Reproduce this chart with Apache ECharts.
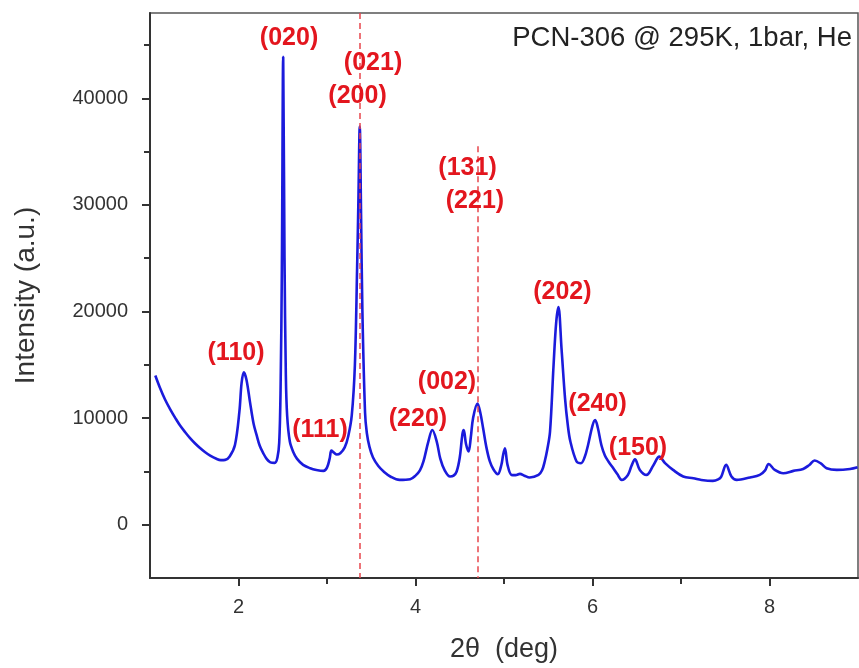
<!DOCTYPE html>
<html>
<head>
<meta charset="utf-8">
<script src="https://cdn.jsdelivr.net/npm/echarts@6/dist/echarts.min.js"></script>
<style>
  html, body { margin: 0; padding: 0; background: #ffffff; }
  #chart { width: 859px; height: 668px; }
</style>
</head>
<body>
<div id="chart"></div>
<script>
// 2θ (deg) positions of the pattern
const twoTheta = [
  1.06, 1.11, 1.17, 1.23, 1.29, 1.34, 1.40, 1.45, 1.51, 1.565, 1.62, 1.68, 1.75, 1.80, 1.85, 1.90,
  1.96, 2.01, 2.035, 2.06, 2.09, 2.13, 2.17, 2.205, 2.24, 2.28, 2.32, 2.36, 2.41, 2.44, 2.46,
  2.475, 2.49, 2.505, 2.52, 2.535, 2.55, 2.58, 2.62, 2.66, 2.73, 2.81, 2.88, 2.96, 3.00, 3.03,
  3.05, 3.08, 3.11, 3.15, 3.20, 3.24, 3.28, 3.315, 3.34, 3.355, 3.37, 3.385, 3.40, 3.43, 3.45,
  3.48, 3.52, 3.58, 3.64, 3.72, 3.82, 3.94, 4.00, 4.05, 4.09, 4.145, 4.19, 4.24, 4.28, 4.33,
  4.39, 4.43, 4.465, 4.50, 4.53, 4.545, 4.57, 4.60, 4.625, 4.65, 4.70, 4.73, 4.765, 4.80, 4.84,
  4.88, 4.93, 4.97, 4.99, 5.01, 5.04, 5.085, 5.13, 5.18, 5.23, 5.29, 5.39, 5.43, 5.46, 5.49,
  5.52, 5.56, 5.59, 5.615, 5.65, 5.69, 5.72, 5.75, 5.82, 5.87, 5.91, 5.95, 6.00, 6.03, 6.06,
  6.10, 6.14, 6.18, 6.235, 6.28, 6.33, 6.40, 6.44, 6.48, 6.535, 6.61, 6.69, 6.755, 6.82, 6.91,
  7.025, 7.14, 7.23, 7.36, 7.42, 7.455, 7.51, 7.57, 7.63, 7.78, 7.89, 7.95, 7.99, 8.06, 8.155,
  8.27, 8.38, 8.45, 8.51, 8.58, 8.645, 8.76, 8.91, 8.995
];
// Intensity (a.u.)
const intensity = [
  14000, 12900, 11750, 10800, 9950, 9300, 8650, 8150, 7620, 7200, 6820, 6480, 6180, 6060, 6080, 6400,
  7480, 10600, 13300, 14300, 13600, 11500, 9500, 8400, 7400, 6700, 6150, 5850, 5800, 6300, 7700,
  12500, 24000, 43880, 25000, 14000, 10200, 7800, 6800, 6200, 5610, 5300, 5140, 5050, 5350, 6200,
  6950, 6750, 6580, 6700, 7250, 8300, 10280, 14960, 24000, 30500, 37350, 29000, 20000, 10500, 8600,
  7300, 6300, 5500, 4990, 4500, 4200, 4270, 4600, 5100, 5930, 7800, 8880, 7800, 6200, 5100,
  4520, 4600, 4990, 6300, 8500, 8880, 7600, 6860, 8200, 9970, 11360, 10600, 9000, 7300, 5930,
  5200, 4740, 5600, 6540, 7170, 5610, 4670, 4650, 4770, 4600, 4430, 4670, 5100, 5930, 7100,
  8730, 14960, 19000, 20410, 16510, 11830, 9400, 7800, 5930, 5770, 6300, 7480, 9300, 9820, 9100,
  7480, 6500, 5930, 5300, 4750, 4200, 4670, 5500, 6140, 5140, 4670, 5610, 6390, 5770, 5140,
  4520, 4360, 4200, 4110, 4250, 4520, 5610, 4520, 4200, 4430, 4670, 5100, 5700, 5140, 4830,
  5050, 5230, 5600, 6020, 5750, 5300, 5140, 5230, 5390
];
// Y tick labels and minor ticks
const yMajorTicks = [0, 10000, 20000, 30000, 40000];
const yMinorTicks = [5000, 15000, 25000, 35000, 45000];
const xMajorTicks = [2, 4, 6, 8];
const xMinorTicks = [3, 5, 7];
// Miller index annotations (label, 2θ, intensity where label sits)
const hklLabels = ['(110)', '(020)', '(111)', '(021)', '(200)', '(220)', '(002)', '(131)', '(221)', '(202)', '(240)', '(150)'];
const hklX      = [1.972, 2.571, 2.921, 3.52, 3.345, 4.028, 4.356, 4.588, 4.672, 5.66, 6.057, 6.514];
const hklY      = [16050, 45660, 8870, 43300, 40180, 9900, 13330, 33480, 30360, 21830, 11330, 7210];
// Reference dashed lines: [2θ, top intensity]
const refLineX   = [3.37, 4.70];
const refLineTop = [48000, 35500];
const titleText = 'PCN-306 @ 295K, 1bar, He';

const FONT = '"Liberation Sans", Arial, Helvetica, sans-serif';

const chart = echarts.init(document.getElementById('chart'), null, { renderer: 'canvas' });

const lineData = twoTheta.map((x, i) => [x, intensity[i]]);
const hklData = hklLabels.map((t, i) => ({ name: t, value: [hklX[i], hklY[i]] }));
const refLines = refLineX.map((x, i) => [
  { coord: [x, refLineTop[i]] },
  { coord: [x, -5000] }
]);

chart.setOption({
  animation: false,
  backgroundColor: '#ffffff',
  title: {
    text: titleText,
    right: 7,
    top: 24,
    padding: 0,
    textStyle: { fontFamily: FONT, fontSize: 27.5, fontWeight: 'normal', color: '#222' }
  },
  grid: {
    left: 150, right: 1, top: 13, bottom: 88,
    show: true, borderColor: '#555', borderWidth: 1.5, backgroundColor: 'transparent'
  },
  xAxis: [{
    type: 'value', min: 1, max: 9,
    name: '2θ  (deg)', nameLocation: 'middle', nameGap: 58,
    nameTextStyle: { fontFamily: FONT, fontSize: 27, color: '#333' },
    axisLine: { show: true, onZero: false, lineStyle: { color: '#333', width: 2 } },
    axisTick: { show: true, inside: false, length: 8, customValues: xMajorTicks, lineStyle: { color: '#333', width: 2 } },
    axisLabel: { show: true, customValues: xMajorTicks, margin: 19, fontFamily: FONT, fontSize: 20, color: '#333' },
    splitLine: { show: false }
  }, {
    type: 'value', min: 1, max: 9, position: 'bottom',
    axisLine: { show: false, onZero: false },
    axisTick: { show: true, inside: false, length: 6, customValues: xMinorTicks, lineStyle: { color: '#333', width: 2 } },
    axisLabel: { show: false },
    splitLine: { show: false }
  }],
  yAxis: [{
    type: 'value', min: -5000, max: 48000,
    name: 'Intensity (a.u.)', nameLocation: 'middle', nameGap: 110,
    nameTextStyle: { fontFamily: FONT, fontSize: 28, color: '#333' },
    axisLine: { show: true, onZero: false, lineStyle: { color: '#333', width: 2 } },
    axisTick: { show: true, inside: false, length: 8, customValues: yMajorTicks, lineStyle: { color: '#333', width: 2 } },
    axisLabel: { show: true, customValues: yMajorTicks, margin: 22, fontFamily: FONT, fontSize: 20, color: '#333',
                 formatter: v => String(v) },
    splitLine: { show: false }
  }, {
    type: 'value', min: -5000, max: 48000, position: 'left',
    axisLine: { show: false, onZero: false },
    axisTick: { show: true, inside: false, length: 6, customValues: yMinorTicks, lineStyle: { color: '#333', width: 2 } },
    axisLabel: { show: false },
    splitLine: { show: false }
  }],
  series: [{
    type: 'line',
    data: lineData,
    showSymbol: false,
    smooth: 0.35,
    lineStyle: { color: '#1b1bdc', width: 2.6 },
    z: 3,
    markLine: {
      silent: true,
      symbol: ['none', 'none'],
      label: { show: false },
      lineStyle: { color: '#e8454c', width: 1.5, type: [6, 4] },
      data: refLines
    }
  }, {
    type: 'scatter',
    data: hklData,
    symbolSize: 1,
    itemStyle: { color: 'transparent', opacity: 1 },
    z: 5,
    label: {
      show: true,
      position: 'inside',
      formatter: '{b}',
      fontFamily: FONT,
      fontSize: 25,
      fontWeight: 'bold',
      color: '#e3161e',
      opacity: 1
    }
  }]
});
</script>
</body>
</html>
